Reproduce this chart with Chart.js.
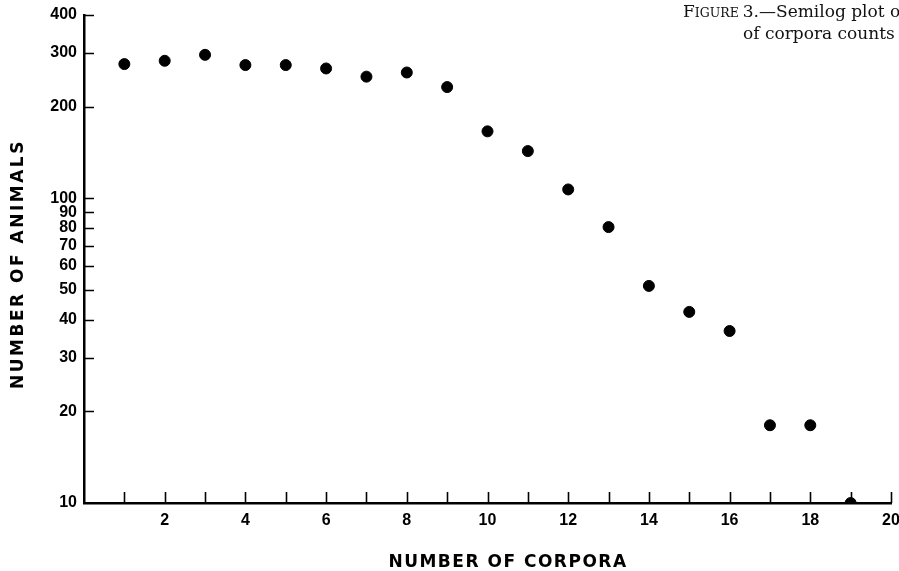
<!DOCTYPE html>
<html lang="en">
<head>
  <meta charset="UTF-8">
  <title>Number of animals by number of corpora</title>
  <script src="https://cdn.jsdelivr.net/npm/chart.js"></script>
  <style>
    html, body { margin: 0; padding: 0; background: #fff; }
    .chart-box { width: 899px; height: 571px; }
  </style>
</head>
<body>
  <div class="chart-box">
    <canvas id="corporaChart" width="899" height="571"></canvas>
  </div>

  <script>
    // data
    const corporaCounts = [1, 2, 3, 4, 5, 6, 7, 8, 9, 10, 11, 12, 13, 14, 15, 16, 17, 18, 19];
    const animalCounts = [276, 283, 296, 274, 274, 267, 251, 259, 232, 166, 143, 107, 80.5, 51.6, 42.4, 36.7, 18, 18, 10];

    // tick marks and labels
    const xTickValues = [1, 2, 3, 4, 5, 6, 7, 8, 9, 10, 11, 12, 13, 14, 15, 16, 17, 18, 19, 20];
    const xTickLabels = [2, 4, 6, 8, 10, 12, 14, 16, 18, 20];
    const yTickValues = [10, 20, 30, 40, 50, 60, 70, 80, 90, 100, 200, 300, 400];

    const xTitle = 'NUMBER OF CORPORA';
    const yTitle = 'NUMBER OF ANIMALS';
    const captionLines = ['3.\u2014Semilog plot of', 'of corpora counts'];

    const tickFont = { family: 'Liberation Sans', weight: 'bold', size: 16 };

    // inward tick marks, drawn under the dots
    const inwardTicks = {
      id: 'inwardTicks',
      beforeDatasetsDraw(chart) {
        const { ctx, chartArea, scales } = chart;
        ctx.save();
        ctx.strokeStyle = '#000';
        ctx.lineWidth = 1.6;
        ctx.beginPath();
        xTickValues.forEach(v => {
          const px = Math.round(scales.x.getPixelForValue(v)) + 0.5;
          ctx.moveTo(px, chartArea.bottom);
          ctx.lineTo(px, chartArea.bottom - 11);
        });
        yTickValues.filter(v => v > 10).forEach(v => {
          const py = Math.round(scales.y.getPixelForValue(v)) + 0.5;
          ctx.moveTo(chartArea.left, py);
          ctx.lineTo(chartArea.left + 10, py);
        });
        ctx.stroke();
        ctx.restore();
      }
    };

    // axis titles and the figure caption
    const titlesAndCaption = {
      id: 'titlesAndCaption',
      afterDraw(chart) {
        const { ctx } = chart;
        ctx.save();
        ctx.fillStyle = '#000';
        ctx.font = 'bold 17px "DejaVu Sans"';
        ctx.letterSpacing = '1.5px';
        ctx.textAlign = 'center';
        ctx.textBaseline = 'alphabetic';
        ctx.fillText(xTitle, 508, 567);

        ctx.letterSpacing = '2.5px';
        ctx.translate(23, 264);
        ctx.rotate(-Math.PI / 2);
        ctx.fillText(yTitle, 0, 0);
        ctx.restore();

        // caption in small caps, runs off the right edge like the page
        ctx.save();
        ctx.fillStyle = '#111';
        ctx.textAlign = 'left';
        let x = 683;
        ctx.font = '17px "DejaVu Serif"';
        ctx.fillText('F', x, 17);
        x += ctx.measureText('F').width;
        ctx.font = '12.5px "DejaVu Serif"';
        ctx.fillText('IGURE', x, 17);
        x += ctx.measureText('IGURE ').width;
        ctx.font = '17px "DejaVu Serif"';
        ctx.fillText(captionLines[0], x, 17);
        ctx.fillText(captionLines[1], 743, 39);
        ctx.restore();
      }
    };

    const ctx = document.getElementById('corporaChart').getContext('2d');
    new Chart(ctx, {
      type: 'scatter',
      data: {
        datasets: [{
          label: 'Animals',
          data: corporaCounts.map((c, i) => ({ x: c, y: animalCounts[i] })),
          backgroundColor: '#000',
          borderColor: '#000',
          pointRadius: 5.5,
          pointHoverRadius: 5.5
        }]
      },
      options: {
        responsive: false,
        animation: false,
        devicePixelRatio: 1,
        layout: { padding: { top: 15, right: 8, bottom: 0, left: 0 } },
        plugins: {
          legend: { display: false },
          tooltip: { enabled: false }
        },
        scales: {
          x: {
            type: 'linear',
            position: 'bottom',
            min: 0,
            max: 20,
            grid: { display: false, drawTicks: false },
            border: { display: true, color: '#000', width: 2.5 },
            ticks: {
              autoSkip: false,
              maxRotation: 0,
              padding: 8,
              color: '#000',
              font: tickFont,
              callback: v => xTickLabels.includes(v) ? String(v) : ''
            },
            afterBuildTicks: s => { s.ticks = xTickValues.map(v => ({ value: v })); },
            afterFit: s => { s.height = 68; s.paddingLeft = 0; s.paddingRight = 0; }
          },
          y: {
            type: 'logarithmic',
            min: 10,
            max: 400,
            grid: { display: false, drawTicks: false },
            border: { display: true, color: '#000', width: 2.5 },
            ticks: {
              autoSkip: false,
              padding: 7,
              color: '#000',
              font: tickFont,
              callback: v => String(v)
            },
            afterBuildTicks: s => { s.ticks = yTickValues.map(v => ({ value: v })); },
            afterFit: s => { s.width = 84; s.paddingTop = 0; s.paddingBottom = 0; }
          }
        }
      },
      plugins: [inwardTicks, titlesAndCaption]
    });
  </script>
</body>
</html>
